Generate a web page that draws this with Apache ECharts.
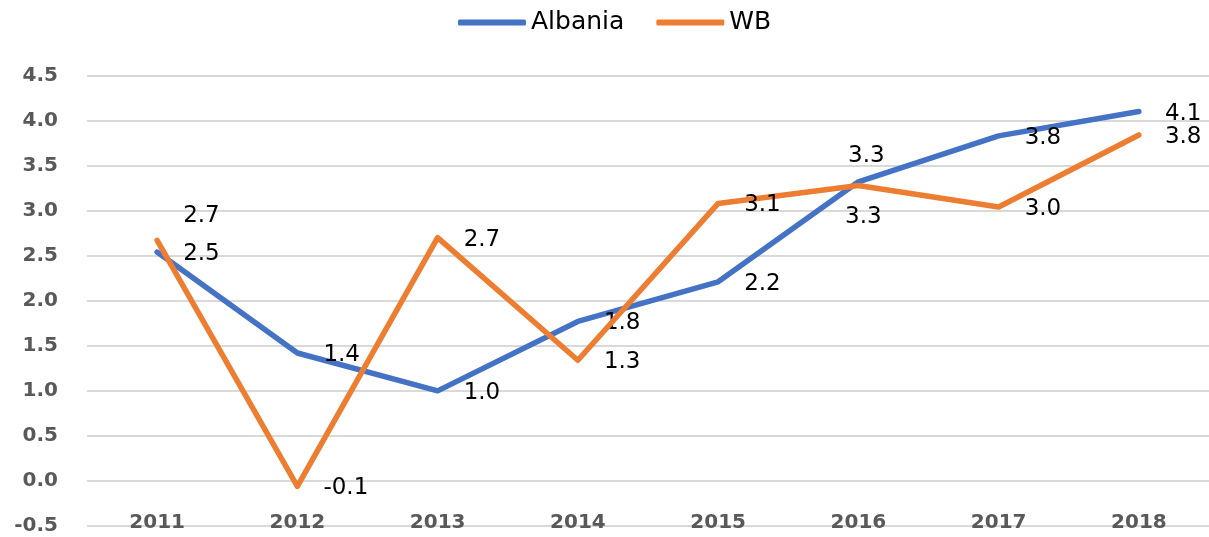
<!DOCTYPE html>
<html>
<head>
<meta charset="utf-8">
<script src="https://cdn.jsdelivr.net/npm/echarts@6/dist/echarts.min.js"></script>
<style>
  html, body { margin: 0; padding: 0; background: #fff; }
  #chart { width: 1209px; height: 537px; }
</style>
</head>
<body>
<div id="chart"></div>
<script>
const years = ['2011', '2012', '2013', '2014', '2015', '2016', '2017', '2018']
const albania = [2.54, 1.42, 1.0, 1.77, 2.21, 3.32, 3.83, 4.1]
const wb = [2.67, -0.06, 2.7, 1.34, 3.08, 3.28, 3.04, 3.84]
const yTicks = { min: -0.5, max: 4.5, step: 0.5 }

// per-point label placement (style only, not data)
const albaniaLabelPos = [null, null, null, null, null, { position: 'top', distance: 14, offset: [8, 0] }, null, null]
const wbLabelPos = [{ position: 'right', distance: 26, offset: [0, -24] }, null, null, null, null, { position: 'bottom', distance: 20, offset: [5, 0] }, null, null]

const labelBase = {
  show: true,
  position: 'right',
  distance: 26,
  offset: [0, 2],
  color: '#000',
  fontFamily: 'DejaVu Sans',
  fontSize: 23,
  formatter: p => p.value.toFixed(1)
}

function buildData(values, placements) {
  return values.map((v, i) => {
    const item = { value: v }
    if (placements[i]) item.label = placements[i]
    return item
  })
}

const chart = echarts.init(document.getElementById('chart'))

const option = {
  animation: false,
  legend: {
    top: 5,
    left: 453,
    icon: 'roundRect',
    itemWidth: 68,
    itemHeight: 6,
    itemGap: 32,
    textStyle: { fontFamily: 'DejaVu Sans', fontSize: 25, color: '#000' },
    data: ['Albania', 'WB']
  },
  grid: {
    left: 87,
    right: 0,
    top: 75.5,
    bottom: 11
  },
  xAxis: {
    type: 'category',
    data: years,
    boundaryGap: true,
    axisLine: { show: false },
    axisTick: { show: false },
    axisLabel: {
      margin: -13,
      fontFamily: 'DejaVu Sans',
      fontWeight: 'bold',
      fontSize: 20,
      color: '#595959'
    }
  },
  yAxis: {
    type: 'value',
    min: yTicks.min,
    max: yTicks.max,
    interval: yTicks.step,
    axisLine: { show: false },
    axisTick: { show: false },
    splitLine: { lineStyle: { color: '#d9d9d9', width: 2 } },
    axisLabel: {
      margin: 29,
      fontFamily: 'DejaVu Sans',
      fontWeight: 'bold',
      fontSize: 20,
      color: '#595959',
      formatter: v => v.toFixed(1)
    }
  },
  series: [
    {
      name: 'Albania',
      type: 'line',
      data: buildData(albania, albaniaLabelPos),
      symbol: 'circle',
      symbolSize: 0.1,
      showSymbol: true,
      color: '#4472C4',
      lineStyle: { width: 5.5, color: '#4472C4', cap: 'round', join: 'round' },
      label: labelBase,
      z: 2
    },
    {
      name: 'WB',
      type: 'line',
      data: buildData(wb, wbLabelPos),
      symbol: 'circle',
      symbolSize: 0.1,
      showSymbol: true,
      color: '#ED7D31',
      lineStyle: { width: 5.5, color: '#ED7D31', cap: 'round', join: 'round' },
      label: labelBase,
      z: 3
    }
  ]
}

chart.setOption(option)
</script>
</body>
</html>
